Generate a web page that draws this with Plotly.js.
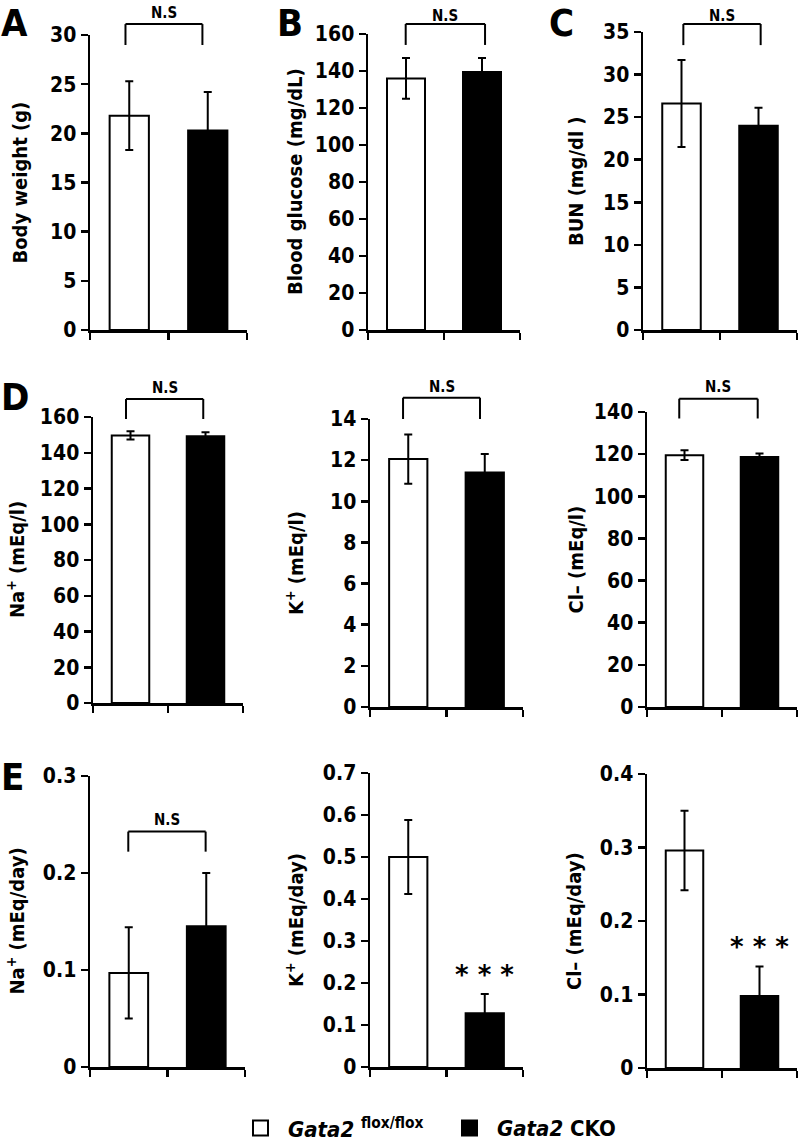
<!DOCTYPE html>
<html>
<head>
<meta charset="utf-8">
<script src="https://cdn.plot.ly/plotly-3.0.1.min.js"></script>
<style>html,body{margin:0;padding:0;background:#fff}#chart{width:800px;height:1142px}</style>
</head>
<body>
<div id="chart"></div>
<script>
// ---------- data ----------
const categories = ['Gata2 flox/flox', 'Gata2 CKO'];
const yTitles = ['Body weight (g)', 'Blood glucose (mg/dL)', 'BUN (mg/dl )',
  'Na<sup>+</sup> (mEq/l)', 'K<sup>+</sup> (mEq/l)', 'Cl– (mEq/l)',
  'Na<sup>+</sup> (mEq/day)', 'K<sup>+</sup> (mEq/day)', 'Cl– (mEq/day)'];
const floxMeans = [21.8, 136, 26.6, 149.7, 12.05, 119.5, 0.097, 0.50, 0.296];
const floxErr   = [3.5, 11, 5.1, 2.3, 1.2, 2.3, 0.047, 0.088, 0.054];
const ckoMeans  = [20.3, 139.5, 24.0, 149.2, 11.4, 118.6, 0.145, 0.128, 0.098];
const ckoErr    = [3.9, 7.5, 2.1, 2.2, 0.9, 1.7, 0.055, 0.046, 0.040];
const yMax      = [30, 160, 35, 160, 14, 140, 0.3, 0.7, 0.4];
const yDtick    = [5, 20, 5, 20, 2, 20, 0.1, 0.1, 0.1];
const significance = ['N.S', 'N.S', 'N.S', 'N.S', 'N.S', 'N.S', 'N.S', '***', '***'];
const legendGene = ['Gata2', 'Gata2'];
const legendSuffix = [' <sup>flox/flox</sup>', ' CKO'];
const panelLetters = ['A', 'B', 'C', 'D', 'E'];

// ---------- layout geometry (pixels) ----------
const W = 800, H = 1142;
const boxes = [ // [left, right, top, bottom]
  [90, 247, 35, 330], [368, 520, 34, 330], [643, 797, 32, 330],
  [93, 243, 417, 703], [370, 523, 419, 707], [647, 797, 412, 707],
  [90, 245, 776, 1067], [370, 523, 773, 1067], [647, 797, 774, 1068]
];
const titleX = [19, 295, 576, 16, 295, 576, 15, 295, 574];
// bracket: [xLeftFrac, xRightFrac, yTopFrac, yLegFrac, textYFrac] in subplot-domain units
const brackets = [
  [0.226, 0.716, 1.037, 0.966, 1.075],
  [0.248, 0.770, 1.034, 0.963, 1.062],
  [0.262, 0.764, 1.027, 0.956, 1.055],
  [0.220, 0.735, 1.063, 0.993, 1.103],
  [0.216, 0.719, 1.074, 1.000, 1.111],
  [0.215, 0.738, 1.045, 0.978, 1.084],
  [0.247, 0.746, 0.809, 0.740, 0.848],
  null, null
];
const starY = [null, null, null, null, null, null, null, 0.219, 0.164];
const letterPos = [[0, 0], [276, 0], [548, 0], [0, 374], [0, 754]]; // left x, top y
const legendItems = [[253, 1128], [462, 1128]]; // square left x, centre y

const FONT = '"Liberation Sans Narrow", "DejaVu Sans Condensed", "Arial Narrow", sans-serif';

const traces = [];
const layout = {
  width: W, height: H,
  margin: {l: 0, r: 0, t: 0, b: 0},
  paper_bgcolor: '#fff', plot_bgcolor: 'rgba(0,0,0,0)',
  font: {family: FONT, color: '#000', size: 19, weight: 700},
  showlegend: false,
  barmode: 'overlay',
  annotations: [], shapes: []
};

for (let i = 0; i < 9; i++) {
  const n = i + 1;
  const xa = n === 1 ? 'x' : 'x' + n;
  const ya = n === 1 ? 'y' : 'y' + n;
  const b = boxes[i];
  const common = {type: 'bar', x: categories, xaxis: xa, yaxis: ya, width: 0.5, hoverinfo: 'skip'};
  traces.push(Object.assign({}, common, {
    y: [floxMeans[i], null], name: categories[0],
    marker: {color: '#fff', line: {color: '#000', width: 2}},
    error_y: {type: 'data', array: [floxErr[i], 0], color: '#000', thickness: 2, width: 4}
  }));
  traces.push(Object.assign({}, common, {
    y: [null, ckoMeans[i]], name: categories[1],
    marker: {color: '#000', line: {color: '#000', width: 2}},
    error_y: {type: 'data', array: [0, ckoErr[i]], color: '#000', thickness: 2, width: 4}
  }));
  layout['xaxis' + (n === 1 ? '' : n)] = {
    domain: [b[0] / W, b[1] / W], anchor: ya, type: 'category',
    range: [-0.5, 1.5], showticklabels: false, tickson: 'boundaries',
    ticks: 'outside', ticklen: 7, tickwidth: 2.5, tickcolor: '#000',
    showline: true, linewidth: 2.5, linecolor: '#000', showgrid: false, zeroline: false, fixedrange: true
  };
  layout['yaxis' + (n === 1 ? '' : n)] = {
    domain: [1 - b[3] / H, 1 - b[2] / H], anchor: xa,
    range: [0, yMax[i]], tick0: 0, dtick: yDtick[i],
    ticks: 'outside', ticklen: 7, tickwidth: 2.5, tickcolor: '#000',
    showline: true, linewidth: 2.5, linecolor: '#000', showgrid: false, zeroline: false,
    tickfont: {family: FONT, size: 21, color: '#000', weight: 700}, fixedrange: true
  };
  layout.annotations.push({
    text: yTitles[i], xref: 'paper', yref: 'paper', textangle: -90,
    x: titleX[i] / W, y: 1 - (b[2] + b[3]) / 2 / H, xanchor: 'center', yanchor: 'middle',
    showarrow: false, font: {family: FONT, size: 20, color: '#000', weight: 700}
  });
  const br = brackets[i];
  if (br) {
    const xd = xa + ' domain', yd = ya + ' domain';
    const ln = {color: '#000', width: 2};
    layout.shapes.push({type: 'line', xref: xd, yref: yd, x0: br[0], x1: br[1], y0: br[2], y1: br[2], line: ln});
    layout.shapes.push({type: 'line', xref: xd, yref: yd, x0: br[0], x1: br[0], y0: br[2], y1: br[3], line: ln});
    layout.shapes.push({type: 'line', xref: xd, yref: yd, x0: br[1], x1: br[1], y0: br[2], y1: br[3], line: ln});
    layout.annotations.push({
      text: significance[i], xref: xd, yref: yd, x: (br[0] + br[1]) / 2, y: br[4],
      xanchor: 'center', yanchor: 'middle', showarrow: false,
      font: {family: FONT, size: 15, color: '#000', weight: 700}
    });
  }
  if (starY[i] !== null) {
    layout.annotations.push({
      text: significance[i].split('').join(' '), xref: xa, yref: ya, x: categories[1], y: starY[i],
      xanchor: 'center', yanchor: 'middle', showarrow: false,
      font: {family: '"DejaVu Sans", sans-serif', size: 26, color: '#000'}
    });
  }
}
panelLetters.forEach((L, k) => {
  layout.annotations.push({
    text: L, xref: 'paper', yref: 'paper', x: letterPos[k][0] / W, y: 1 - letterPos[k][1] / H,
    xanchor: 'left', yanchor: 'top', showarrow: false, borderpad: 0,
    font: {family: FONT, size: 38, color: '#000', weight: 700}
  });
});
// legend: swatches + labels
legendItems.forEach((p, k) => {
  const s = 15;
  layout.shapes.push({type: 'rect', xref: 'paper', yref: 'paper',
    x0: p[0] / W, x1: (p[0] + s) / W, y0: 1 - (p[1] + s / 2) / H, y1: 1 - (p[1] - s / 2) / H,
    fillcolor: k === 0 ? '#fff' : '#000', line: {color: '#000', width: 2}});
  layout.annotations.push({
    text: '<i>' + legendGene[k] + '</i>' + legendSuffix[k], xref: 'paper', yref: 'paper',
    x: (p[0] + s + 18) / W, y: 1 - p[1] / H, xanchor: 'left', yanchor: 'middle', showarrow: false,
    font: {family: FONT, size: 22, color: '#000', weight: 700}
  });
});

Plotly.newPlot('chart', traces, layout, {displayModeBar: false, staticPlot: true});
</script>
</body>
</html>
